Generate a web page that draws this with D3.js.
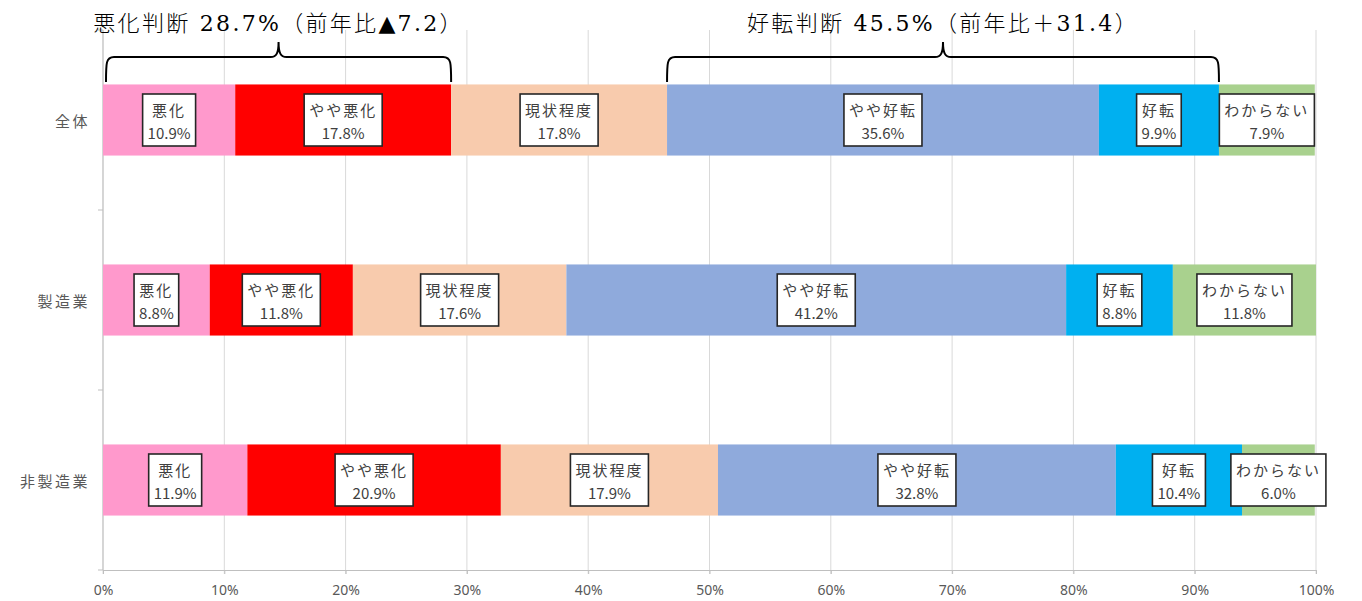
<!DOCTYPE html>
<html><head><meta charset="utf-8">
<script src="https://cdn.jsdelivr.net/npm/d3@7"></script>
<style>
body{margin:0;background:#fff;}
svg{display:block;}
</style></head>
<body>
<svg id="chart" width="1362" height="601"></svg>
<script>
const categories = ["全体", "製造業", "非製造業"];
const seriesNames = ["悪化", "やや悪化", "現状程度", "やや好転", "好転", "わからない"];
const seriesColors = ["#FF99CC", "#FF0000", "#F8CBAD", "#8FAADC", "#00B0F0", "#A9D18E"];
const values全体 = [10.9, 17.8, 17.8, 35.6, 9.9, 7.9];
const values製造業 = [8.8, 11.8, 17.6, 41.2, 8.8, 11.8];
const values非製造業 = [11.9, 20.9, 17.9, 32.8, 10.4, 6.0];
const tickValues = [0, 10, 20, 30, 40, 50, 60, 70, 80, 90, 100];
const tickLabels = ["0%", "10%", "20%", "30%", "40%", "50%", "60%", "70%", "80%", "90%", "100%"];
const groupLabels = ["悪化判断 28.7%（前年比▲7.2）", "好転判断 45.5%（前年比＋31.4）"];
const groupSeries = [[0, 1], [3, 4]]; // first and last series index bracketed on 全体

const seriesValues = [values全体, values製造業, values非製造業];

const svg = d3.select("#chart");
const pLeft = 103, pRight = 1316, pTop = 30, pBottom = 570;

const x = d3.scaleLinear().domain([0, 100]).range([pLeft, pRight]);
const y = d3.scaleBand().domain(categories).range([pTop, pBottom]).paddingInner(0.605).paddingOuter(0.3025);

// gridlines
svg.append("g").selectAll("line").data(tickValues).join("line")
  .attr("x1", d => x(d)).attr("x2", d => x(d))
  .attr("y1", pTop).attr("y2", pBottom + 4)
  .attr("stroke", "#D9D9D9").attr("stroke-width", 1);

// axis bottom
const xAxis = d3.axisBottom(x).tickValues(tickValues).tickFormat((d, i) => tickLabels[i]).tickSize(4).tickPadding(11);
const gx = svg.append("g").attr("transform", `translate(0,${pBottom})`).call(xAxis);
gx.select(".domain").attr("stroke", "#BFBFBF");
gx.selectAll(".tick line").attr("stroke", "#BFBFBF");
gx.selectAll(".tick text").attr("fill", "#595959").style("font-family", "'Noto Sans', sans-serif").style("font-size", "14px");

// left axis
const catBounds = [pTop, pTop + (pBottom - pTop) / 3, pTop + 2 * (pBottom - pTop) / 3, pBottom];
svg.append("line").attr("x1", pLeft).attr("x2", pLeft).attr("y1", pTop).attr("y2", pBottom).attr("stroke", "#BFBFBF");
svg.append("g").selectAll("line").data(catBounds).join("line")
  .attr("x1", pLeft - 5).attr("x2", pLeft).attr("y1", d => d).attr("y2", d => d)
  .attr("stroke", "#BFBFBF");

// category labels
svg.append("g").selectAll("text").data(categories).join("text")
  .attr("x", 90).attr("y", d => y(d) + y.bandwidth() / 2)
  .attr("text-anchor", "end").attr("dominant-baseline", "central")
  .attr("fill", "#595959")
  .style("font-family", "'Noto Sans CJK JP', sans-serif").style("font-size", "15px").style("letter-spacing", "2.5px")
  .text(d => d);

// stacked data
const rows = categories.map((c, ci) => {
  let acc = 0;
  return seriesValues[ci].map((v, si) => {
    const seg = { cat: c, si, v, x0: acc, x1: acc + v };
    acc += v;
    return seg;
  });
});
const segs = rows.flat();

svg.append("g").selectAll("rect").data(segs).join("rect")
  .attr("x", d => x(d.x0)).attr("width", d => x(d.x1) - x(d.x0))
  .attr("y", d => y(d.cat)).attr("height", y.bandwidth())
  .attr("fill", d => seriesColors[d.si]);

// labels
const lg = svg.append("g").selectAll("g").data(segs).join("g")
  .attr("transform", d => `translate(${x((d.x0 + d.x1) / 2)},${y(d.cat) + y.bandwidth() / 2})`);
lg.append("rect").attr("fill", "#fff").attr("stroke", "#262626").attr("stroke-width", 1.6);
lg.append("text").attr("class", "l1").attr("text-anchor", "middle").attr("y", -11).attr("dominant-baseline", "central")
  .attr("fill", "#404040").style("font-family", "'Noto Sans CJK JP', sans-serif").style("font-size", "15px")
  .style("letter-spacing", "2px")
  .text(d => seriesNames[d.si]);
lg.append("text").attr("class", "l2").attr("text-anchor", "middle").attr("y", 12).attr("dominant-baseline", "central")
  .attr("fill", "#404040").style("font-family", "'Noto Sans CJK JP', sans-serif").style("font-size", "15px")
  .text(d => d.v.toFixed(1) + "%");
lg.each(function () {
  const g = d3.select(this);
  const w1 = g.select(".l1").node().getComputedTextLength();
  const w2 = g.select(".l2").node().getComputedTextLength();
  const w = Math.max(w1, w2) + 10;
  g.select("rect").attr("x", -w / 2).attr("y", -26).attr("width", w).attr("height", 52);
});

// group braces
const r0 = rows[0];
groupSeries.forEach((gs, i) => {
  const x0 = x(r0[gs[0]].x0) + (i === 0 ? 3 : 0);
  const x1 = x(r0[gs[1]].x1);
  const mid = (x0 + x1) / 2;
  const yb = 82, yh = 57, yp = 42, r = 8;
  const p = `M${x0},${yb} C${x0},${yh + 6} ${x0},${yh} ${x0 + r},${yh} L${mid - r},${yh} C${mid - 2},${yh} ${mid},${yh - 4} ${mid},${yp} C${mid},${yh - 4} ${mid + 2},${yh} ${mid + r},${yh} L${x1 - r},${yh} C${x1},${yh} ${x1},${yh + 6} ${x1},${yb}`;
  svg.append("path").attr("d", p).attr("fill", "none").attr("stroke", "#000").attr("stroke-width", 2);
  svg.append("text").attr("x", mid).attr("y", 31).attr("text-anchor", "middle")
    .attr("fill", "#000").style("font-family", "'DejaVu Serif', 'Noto Sans CJK JP', serif").style("font-size", "22px")
    .style("font-weight", "300")
    .style("letter-spacing", "2.3px")
    .text(groupLabels[i]);
});
</script>
</body></html>
